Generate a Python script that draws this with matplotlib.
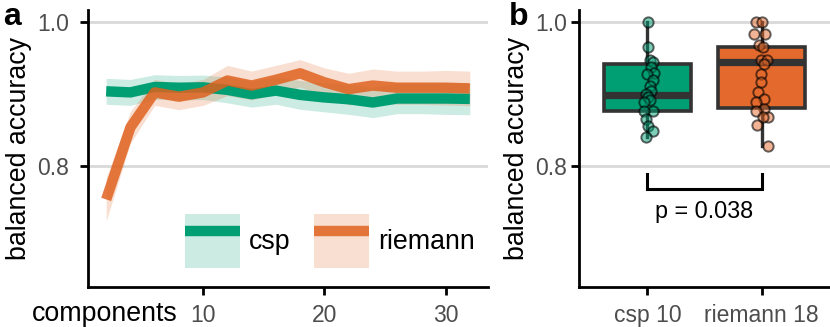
import matplotlib
matplotlib.use("Agg")
import matplotlib.pyplot as plt
import numpy as np
from matplotlib.patches import Patch
from matplotlib.lines import Line2D

plt.rcParams['font.family'] = ['Liberation Sans', 'DejaVu Sans']

# ---------------- data ----------------
components = [2, 4, 6, 8, 10, 12, 14, 16, 18, 20, 22, 24, 26, 28, 30, 32]
csp_mean = [0.904, 0.9025, 0.910, 0.909, 0.9095, 0.906, 0.900, 0.905, 0.899,
            0.8955, 0.893, 0.8885, 0.894, 0.894, 0.894, 0.8935]
csp_se = [0.018, 0.018, 0.017, 0.017, 0.017, 0.018, 0.018, 0.019, 0.020,
          0.020, 0.021, 0.021, 0.021, 0.021, 0.022, 0.022]
riemann_mean = [0.754, 0.854, 0.9025, 0.8965, 0.9025, 0.919, 0.912, 0.920, 0.929,
                0.9165, 0.907, 0.912, 0.909, 0.909, 0.909, 0.908]
riemann_se = [0.030, 0.022, 0.018, 0.018, 0.018, 0.021, 0.020, 0.020, 0.019,
              0.020, 0.022, 0.023, 0.023, 0.023, 0.024, 0.024]

box_labels = ['csp 10', 'riemann 18']
box_q1 = [0.876, 0.8815]
box_med = [0.899, 0.9445]
box_q3 = [0.9413, 0.9655]
box_whislo = [0.8406, 0.828]
box_whishi = [1.0, 1.0]

csp10_points = [1.000, 0.966, 0.947, 0.9445, 0.9375, 0.930, 0.928, 0.919, 0.912, 0.905,
                0.900, 0.8956, 0.892, 0.8885, 0.877, 0.877, 0.865, 0.856, 0.849, 0.8406]
csp10_jitter = [0.009, 0.003, 0.018, 0.047, 0.032, 0.061, -0.003, 0.047, 0.018, 0.032,
                -0.012, 0.003, 0.026, -0.026, 0.047, -0.032, -0.012, 0.009, 0.047, -0.012]
riemann18_points = [1.000, 1.000, 0.983, 0.983, 0.968, 0.9655, 0.947, 0.947, 0.942, 0.928,
                    0.9165, 0.9025, 0.893, 0.8885, 0.879, 0.877, 0.868, 0.868, 0.857, 0.828]
riemann18_jitter = [-0.050, 0.000, -0.064, 0.029, -0.020, 0.009, -0.006, 0.047, 0.018, -0.006,
                    -0.006, -0.035, 0.023, -0.050, 0.023, -0.050, 0.053, 0.009, -0.041, 0.053]

p_text = 'p = 0.038'
bracket_y = 0.769
bracket_tick = 0.020

# ---------------- style ----------------
GREEN = '#009E73'
ORANGE = '#E0621F'
BOXORANGE = '#E4692C'
DARK = '#333333'
GRID = '#D9D9D9'
TICKCOL = '#4D4D4D'
W, H = 830, 327
fig = plt.figure(figsize=(W / 100, H / 100), dpi=100)

def frac(l, r, t, b):
    return [l / W, 1 - b / H, (r - l) / W, (b - t) / H]

axa = fig.add_axes(frac(88, 488, 9.5, 287))
axb = fig.add_axes(frac(579, 830, 9.5, 287))

ylim = (0.6325, 1.0175)
for ax, ypad in ((axa, 8.0), (axb, 3.0)):
    ax.set_ylim(*ylim)
    ax.set_yticks([0.8, 1.0])
    ax.set_yticklabels(['0.8', '1.0'])
    for s in ('top', 'right'):
        ax.spines[s].set_visible(False)
    for s in ('left', 'bottom'):
        ax.spines[s].set_linewidth(2.0)
        ax.spines[s].set_color('black')
    ax.tick_params(axis='both', length=5.5, width=2.0, color='black',
                   labelsize=16.5, labelcolor=TICKCOL)
    ax.tick_params(axis='y', pad=ypad)
    ax.tick_params(axis='x', pad=7)
    ax.yaxis.grid(True, color=GRID, linewidth=2.0)
    ax.set_axisbelow(True)
    ax.set_ylabel('balanced accuracy', fontsize=19.3, labelpad=4)

# ---------------- panel a ----------------
x = np.array(components)
cm, cs = np.array(csp_mean), np.array(csp_se)
rm, rs = np.array(riemann_mean), np.array(riemann_se)
axa.fill_between(x, cm - cs, cm + cs, color=GREEN, alpha=0.2, linewidth=0)
axa.plot(x, cm, color=GREEN, linewidth=7.5, solid_capstyle='butt', solid_joinstyle='round')
axa.fill_between(x, rm - rs, rm + rs, color=ORANGE, alpha=0.2, linewidth=0)
axa.plot(x, rm, color=ORANGE, alpha=0.85, linewidth=7.5, solid_capstyle='butt',
         solid_joinstyle='round')
axa.set_xlim(0.5, 33.5)
axa.set_xticks([10, 20, 30])
axa.set_xlabel('components', fontsize=19.3, ha='right', va='baseline')
axa.xaxis.set_label_coords(0.225, -0.1225)

handles = [(Patch(facecolor=GREEN, alpha=0.2, linewidth=0),
            Line2D([], [], color=GREEN, linewidth=7.5, solid_capstyle='butt')),
           (Patch(facecolor=ORANGE, alpha=0.2, linewidth=0),
            Line2D([], [], color=ORANGE, alpha=0.85, linewidth=7.5, solid_capstyle='butt'))]
axa.legend(handles, ['csp', 'riemann'], ncol=2, frameon=False, fontsize=19.3,
           loc='center', bbox_to_anchor=(0.605, 0.166), handlelength=2.05,
           handleheight=2.72, handletextpad=0.34, columnspacing=0.87, borderpad=0)

# ---------------- panel b ----------------
stats = []
for i in range(2):
    stats.append(dict(label=box_labels[i], q1=box_q1[i], med=box_med[i], q3=box_q3[i],
                      whislo=box_whislo[i], whishi=box_whishi[i], fliers=[]))
bp = axb.bxp(stats, positions=[1, 2], widths=0.76, patch_artist=True, showcaps=False,
             boxprops=dict(edgecolor=DARK, linewidth=2.6),
             whiskerprops=dict(color=DARK, linewidth=2.4),
             medianprops=dict(color=DARK, linewidth=5.2, solid_capstyle='butt'),
             zorder=2)
for patch, c in zip(bp['boxes'], [GREEN, BOXORANGE]):
    patch.set_facecolor(c)

for pos, pts, jit, c in ((1, csp10_points, csp10_jitter, GREEN),
                         (2, riemann18_points, riemann18_jitter, BOXORANGE)):
    xs = pos + np.array(jit)
    fc = matplotlib.colors.to_rgba(c, 0.5)
    axb.scatter(xs, pts, s=55, facecolor=fc, edgecolor=(0, 0, 0, 0.6),
                linewidth=1.4, zorder=3)

axb.plot([1, 1, 2, 2],
         [bracket_y + bracket_tick, bracket_y, bracket_y, bracket_y + bracket_tick],
         color='black', linewidth=2.2, solid_joinstyle='miter')
axb.text(1.5, bracket_y - 0.032, p_text, ha='center', va='center', fontsize=16.8)
axb.set_xlim(0.4, 2.6)
axb.set_xticks([1, 2])
axb.set_xticklabels(box_labels)

fig.text(3 / W, 1 - 25 / H, 'a', fontsize=23, fontweight='bold', ha='left', va='baseline')
fig.text(509 / W, 1 - 25 / H, 'b', fontsize=23, fontweight='bold', ha='left', va='baseline')

fig.savefig('out.png', dpi=100)
